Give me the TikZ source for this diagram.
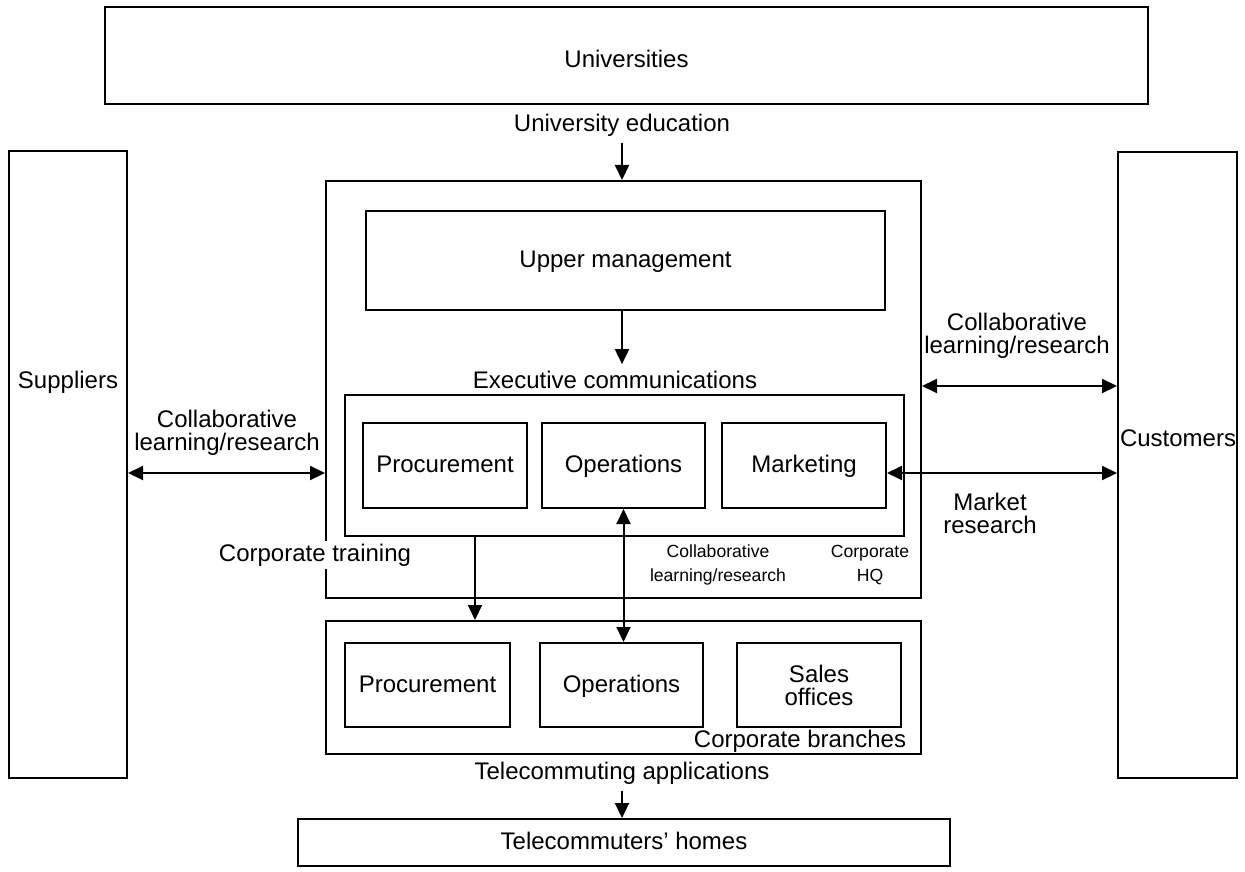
\documentclass[tikz,border=0pt]{standalone}
\usepackage{fontspec}
\setmainfont{Liberation Sans}
\usetikzlibrary{positioning,arrows.meta}
\newcommand{\bigtext}{\fontsize{12}{11.5}\selectfont}
\newcommand{\smalltext}{\fontsize{8.8}{12}\selectfont}
\tikzset{
  box/.style={draw, line width=1pt, inner sep=0pt, align=center, font=\bigtext},
  onebox/.style={box, text height=0.9em, text depth=0.2em},
  lbl/.style={align=center, font=\bigtext},
  slbl/.style={align=center, font=\smalltext},
  arr/.style={-{Triangle[length=7.5pt,width=7pt]}, line width=1pt},
  darr/.style={{Triangle[length=7.5pt,width=7pt]}-{Triangle[length=7.5pt,width=7pt]}, line width=1pt},
}

\begin{document}
\begin{tikzpicture}[x=0.5pt, y=-0.5pt]
  \useasboundingbox (0,0) rectangle (1245,871);
  % partners around the firm
  \node[onebox, text height=1.4em, minimum width=521.5pt, minimum height=48.5pt] (univ) at (626.5,55.5) {Universities};
  \node[box, minimum width=59pt, minimum height=313.5pt] (supp) at (68,464.5) {};
  \node[lbl] (supptxt) at (68,382) {Suppliers};
  \node[box, minimum width=59.5pt, minimum height=313pt] (cust) at (1177.5,465) {};
  \node[lbl] (custtxt) at (1178,438) {Customers};
  % corporate HQ
  \node[box, minimum width=297.5pt, minimum height=208.5pt] (hq) at (623.5,389.5) {};
  \node[onebox, minimum width=259.5pt, minimum height=49.5pt] (upper) at (625.5,260.5) {Upper management};
  \node[box, minimum width=279.5pt, minimum height=70.5pt] (dept) at (624.5,465.5) {};
  \node[onebox, minimum width=82pt, minimum height=42.5pt] (proc) at (445,465.5) {Procurement};
  \node[onebox, minimum width=81.5pt, minimum height=42.5pt] (ops) at (623.5,465.5) {Operations};
  \node[onebox, minimum width=82pt, minimum height=42.5pt] (mkt) at (804,465.5) {Marketing};
  % corporate branches
  \node[box, minimum width=297.5pt, minimum height=66.5pt] (branch) at (623.5,687.5) {};
  \node[onebox, minimum width=82.5pt, minimum height=42pt] (proc2) at (427.5,685) {Procurement};
  \node[onebox, minimum width=81.5pt, minimum height=42pt] (ops2) at (621.5,685) {Operations};
  \node[box, minimum width=82pt, minimum height=42pt] (sales) at (819,685) {Sales\\offices};
  \node[onebox, minimum width=326pt, minimum height=23.5pt] (homes) at (624,842.5) {Telecommuters’ homes};
  % labels
  \node[lbl] (uedu) at (622,125) {University education};
  \node[lbl] (exec) at (615,380) {Executive communications};
  \node[lbl] (collL) at (227,433) {Collaborative\\learning/research};
  \node[lbl] (collR) at (1017,336) {Collaborative\\learning/research};
  \node[lbl] (mres) at (990,513) {Market\\research};
  \node[lbl, fill=white, inner sep=1.5pt] (ctrain) at (315,555) {Corporate training};
  \node[slbl] (collS) at (718,565) {Collaborative\\learning/research};
  \node[slbl] (hqlbl) at (870,565) {Corporate\\HQ};
  \node[lbl] (brlbl) at (800,741) {Corporate branches};
  \node[lbl] (tele) at (622,773) {Telecommuting applications};
  % connectors
  \coordinate (uprow) at (0,386);
  \coordinate (lowrow) at (0,473);
  \coordinate (trainx) at (475,0);
  \draw[arr] (uedu.south) -- (uedu.south |- hq.north);
  \draw[arr] (uedu |- upper.south) -- (uedu |- exec.north);
  \draw[darr] (supp.east |- lowrow) -- (hq.west |- lowrow);
  \draw[darr] (hq.east |- uprow) -- (cust.west |- uprow);
  \draw[darr] (mkt.east |- lowrow) -- (cust.west |- lowrow);
  \draw[arr] (dept.south -| trainx) -- (branch.north -| trainx);
  \draw[darr] (ops.south) -- (ops.south |- ops2.north);
  \draw[arr] (tele.south) -- (tele.south |- homes.north);
\end{tikzpicture}
\end{document}
